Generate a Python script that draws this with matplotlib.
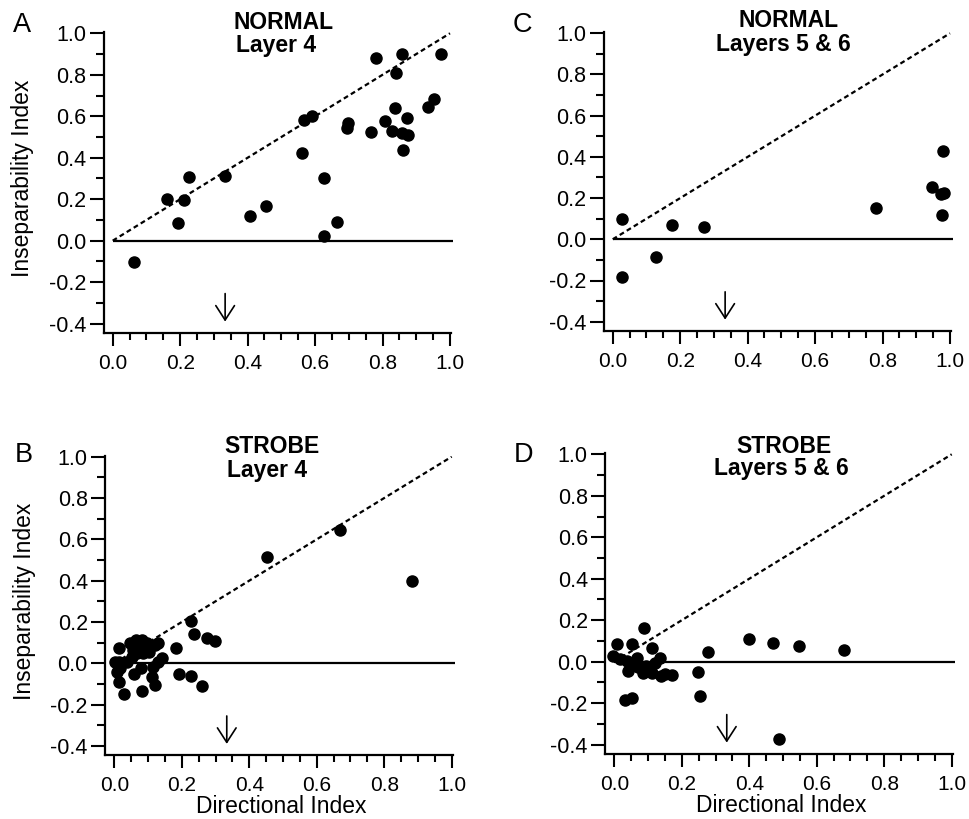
import numpy as np
import matplotlib.pyplot as plt
from matplotlib.ticker import MultipleLocator, FormatStrFormatter

plt.rcParams["font.family"] = ["Liberation Sans", "DejaVu Sans"]

# Values (directional index, inseparability index)
NORMAL_L4_DI = [0.064, 0.161, 0.210, 0.194, 0.227, 0.333, 0.407, 0.455, 0.561,
                0.567, 0.592, 0.626, 0.627, 0.664, 0.696, 0.699, 0.766, 0.782,
                0.808, 0.827, 0.836, 0.841, 0.857, 0.859, 0.874, 0.873, 0.862,
                0.934, 0.953, 0.974]
NORMAL_L4_II = [-0.105, 0.199, 0.195, 0.085, 0.305, 0.313, 0.117, 0.166, 0.421,
                0.582, 0.603, 0.301, 0.021, 0.092, 0.545, 0.569, 0.523, 0.883,
                0.576, 0.529, 0.638, 0.810, 0.899, 0.521, 0.510, 0.592, 0.439,
                0.643, 0.685, 0.899]

NORMAL_L56_DI = [0.027, 0.027, 0.127, 0.175, 0.271, 0.780, 0.948, 0.972, 0.982,
                 0.980, 0.976]
NORMAL_L56_II = [0.100, -0.184, -0.087, 0.068, 0.061, 0.154, 0.256, 0.220, 0.227,
                 0.430, 0.117]

STROBE_L4_DI = [0.452, 0.669, 0.881, 0.228, 0.235, 0.276, 0.297, 0.183, 0.191,
                0.226, 0.261, 0.131, 0.121, 0.111, 0.082, 0.030, 0.015, 0.007,
                0.015, 0.014, 0.037, 0.059, 0.080, 0.046, 0.064, 0.056, 0.076,
                0.096, 0.104, 0.121, 0.086, 0.051, 0.066, 0.002, 0.017, 0.116,
                0.081, 0.130, 0.140]
STROBE_L4_II = [0.513, 0.645, 0.400, 0.203, 0.142, 0.124, 0.110, 0.073, -0.052,
                -0.061, -0.108, 0.005, -0.105, -0.065, -0.132, -0.148, -0.089,
                -0.040, 0.008, 0.074, 0.005, -0.053, -0.024, 0.097, 0.113, 0.065,
                0.081, 0.100, 0.056, 0.090, 0.048, 0.032, 0.048, 0.008, -0.024,
                -0.016, 0.113, 0.097, 0.024]

STROBE_L56_DI = [0.089, 0.009, 0.051, 0.111, 0.279, 0.400, 0.471, 0.548, 0.681,
                 -0.003, 0.017, 0.037, 0.040, 0.056, 0.066, 0.071, 0.086, 0.094,
                 0.111, 0.121, 0.135, 0.138, 0.150, 0.170, 0.032, 0.051, 0.249,
                 0.254, 0.487]
STROBE_L56_II = [0.164, 0.085, 0.085, 0.064, 0.047, 0.111, 0.088, 0.077, 0.058,
                 0.027, 0.011, 0.003, -0.043, -0.008, 0.016, -0.024, -0.053,
                 -0.019, -0.053, -0.008, 0.016, -0.069, -0.059, -0.064, -0.185,
                 -0.174, -0.050, -0.164, -0.375]

UNITY = [0.0, 1.0]
ARROW_AT = 1 / 3

FIG_W, FIG_H = 969, 819
XLIM = (-0.027, 1.003)
YLIM = (-0.445, 1.005)


def axes_rect(x0, x1, y0, y1):
    """Pixel positions of data x=0, x=1, y=0, y=1 -> figure-fraction rect."""
    sx = x1 - x0
    sy = y0 - y1
    left = x0 + XLIM[0] * sx
    right = x0 + XLIM[1] * sx
    bottom = y0 - YLIM[0] * sy
    top = y0 - YLIM[1] * sy
    return [left / FIG_W, 1 - bottom / FIG_H, (right - left) / FIG_W,
            (bottom - top) / FIG_H]


def draw_panel(fig, rect, di, ii, letter, title, title_pos, ylabel, xlabel):
    ax = fig.add_axes(rect)
    ax.set_xlim(*XLIM)
    ax.set_ylim(*YLIM)

    for side in ("top", "right"):
        ax.spines[side].set_visible(False)
    for side in ("left", "bottom"):
        ax.spines[side].set_linewidth(1.6)

    ax.xaxis.set_major_locator(MultipleLocator(0.2))
    ax.xaxis.set_minor_locator(MultipleLocator(0.05))
    ax.yaxis.set_major_locator(MultipleLocator(0.2))
    ax.yaxis.set_minor_locator(MultipleLocator(0.1))
    ax.xaxis.set_major_formatter(FormatStrFormatter("%.1f"))
    ax.yaxis.set_major_formatter(FormatStrFormatter("%.1f"))
    ax.tick_params(axis="x", which="major", direction="out", length=9,
                   width=1.5, pad=6, labelsize=15)
    ax.tick_params(axis="x", which="minor", direction="out", length=5, width=1.5)
    ax.tick_params(axis="y", which="major", direction="out", length=10,
                   width=1.5, pad=2.5, labelsize=15.5)
    ax.tick_params(axis="y", which="minor", direction="out", length=5.5, width=1.5)

    # reference lines
    ax.hlines(0, 0, 1.01, colors="k", lw=1.6, clip_on=False)
    ax.plot(UNITY, UNITY, color="k", lw=1.6, ls=(0, (2.2, 1.5)))

    ax.plot(di, ii, "o", ms=8, color="k", ls="none", clip_on=False)

    ax.annotate("", xy=(ARROW_AT, -0.39), xytext=(ARROW_AT, -0.255),
                arrowprops=dict(arrowstyle="->,head_length=0.65,head_width=0.42",
                                lw=1.2, color="k", shrinkA=0, shrinkB=0,
                                mutation_scale=16))

    (tx1, ty1), (tx2, ty2) = title_pos
    ax.text(tx1, ty1, title[0], ha="center", va="center", fontsize=16.5,
            fontweight="bold", clip_on=False)
    ax.text(tx2, ty2, title[1], ha="center", va="center", fontsize=16.5,
            fontweight="bold", clip_on=False)

    ax.text(-0.268, letter[1], letter[0], ha="center", va="center",
            fontsize=19.5, clip_on=False)

    if ylabel:
        ax.set_ylabel(ylabel, fontsize=16.5, va="center")
        ax.yaxis.set_label_coords(-0.232, 0.515)
    if xlabel:
        ax.set_xlabel(xlabel, fontsize=16.5, va="center")
        ax.xaxis.set_label_coords(0.508, -0.172)
    return ax


def main():
    fig = plt.figure(figsize=(FIG_W / 100, FIG_H / 100), dpi=100, facecolor="white")

    draw_panel(fig, axes_rect(112.7, 450.0, 240.7, 33.3),
               NORMAL_L4_DI, NORMAL_L4_II, ("A", 1.04),
               ("NORMAL", "Layer 4"), ((0.506, 1.051), (0.483, 0.939)),
               "Inseparability Index", None)
    draw_panel(fig, axes_rect(612.7, 950.0, 239.3, 33.3),
               NORMAL_L56_DI, NORMAL_L56_II, ("C", 1.04),
               ("NORMAL", "Layers 5 & 6"), ((0.52, 1.061), (0.505, 0.948)),
               None, None)
    draw_panel(fig, axes_rect(114.3, 451.7, 663.3, 456.7),
               STROBE_L4_DI, STROBE_L4_II, ("B", 1.008),
               ("STROBE", "Layer 4"), ((0.466, 1.048), (0.452, 0.932)),
               "Inseparability Index", "Directional Index")
    draw_panel(fig, axes_rect(614.3, 951.7, 661.7, 454.3),
               STROBE_L56_DI, STROBE_L56_II, ("D", 0.997),
               ("STROBE", "Layers 5 & 6"), ((0.504, 1.040), (0.496, 0.932)),
               None, "Directional Index")

    fig.savefig("out.png", dpi=100, facecolor="white")


if __name__ == "__main__":
    main()
